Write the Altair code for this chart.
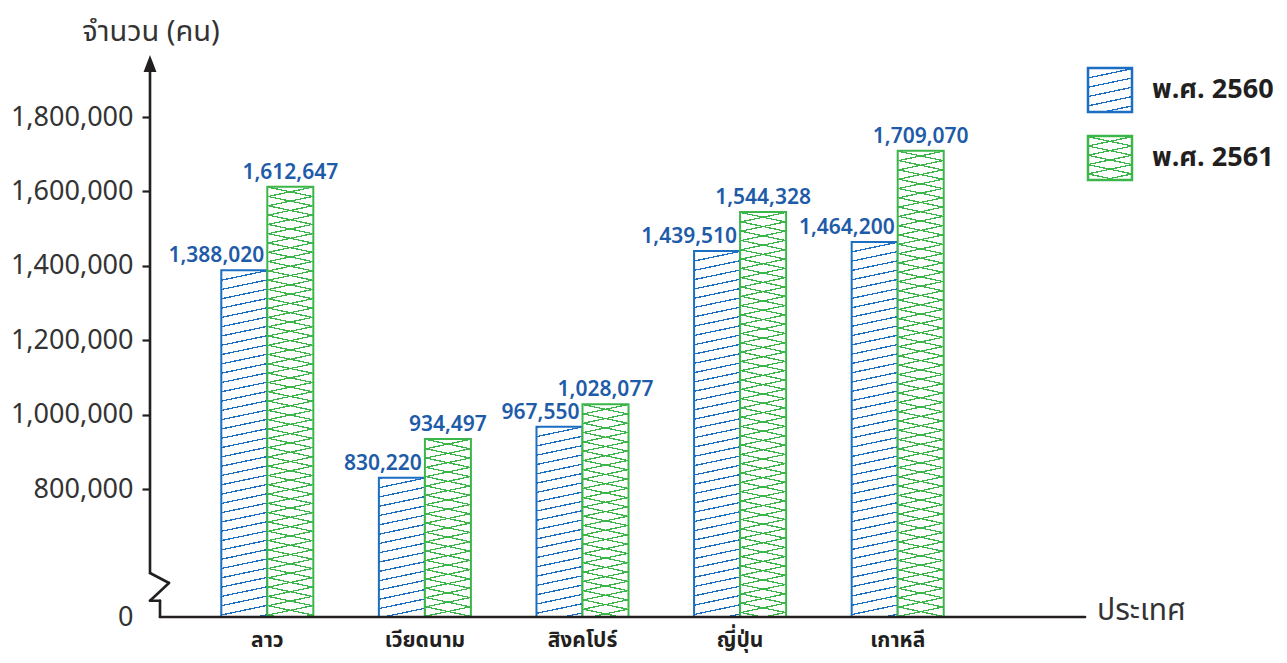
import altair as alt
import pandas as pd

# ---------------- data ----------------
countries = ["ลาว", "เวียดนาม", "สิงคโปร์", "ญี่ปุ่น", "เกาหลี"]
years = ["พ.ศ. 2560", "พ.ศ. 2561"]
values_2560 = [1388020, 830220, 967550, 1439510, 1464200]
values_2561 = [1612647, 934497, 1028077, 1544328, 1709070]
y_tick_values = [0, 800000, 1000000, 1200000, 1400000, 1600000, 1800000]
y_title = "จำนวน (คน)"
x_title = "ประเทศ"

# broken y axis (piecewise scale) and the zig-zag of the axis line
y_domain = [0, 800000, 1966667]
y_range_px = [562, 434, 0]
axis_top = 1931700
break_x_px = [0, 19, 0, 10, 10, 935]
break_y = [275000, 212500, 102000, 102000, 0, 0]

# ---------------- style ----------------
W, H = 935, 562
FONT = "Noto Sans Thai, Noto Sans, DejaVu Sans, sans-serif"
BLUE = "#1b6ec2"
GREEN = "#3cb64a"
LABEL_BLUE = "#1e5ba8"
INK = "#231f20"
CLEAR = "rgba(255,255,255,0)"

X_RANGE = [38.5, 826.5]
PAD_IN = 0.416
PAD_OUT = PAD_IN / 2
step = (X_RANGE[1] - X_RANGE[0]) / (len(countries) - PAD_IN + 2 * PAD_OUT)
bar_w = step * (1 - PAD_IN) / len(years)


def y_px(v):
    for k in range(len(y_domain) - 1):
        d0, d1 = y_domain[k], y_domain[k + 1]
        if v <= d1 or k == len(y_domain) - 2:
            r0, r1 = y_range_px[k], y_range_px[k + 1]
            return r0 + (v - d0) / (d1 - d0) * (r1 - r0)


def bar_h(v):
    return y_range_px[0] - y_px(v)


def stripes(color, bg, w, h, direction, period=9.3, thick=1.3, slope=0.21):
    """Linear gradient with hard stops that draws diagonal hatching."""
    L = h + slope * w
    r = slope * w / h
    k = (r + 1) / (r * r + 1)
    a, b = k * r, k
    if direction == "up":
        x1, y1, x2, y2 = 0, 0, a, b
    else:
        x1, y1, x2, y2 = 1, 0, 1 - a, b
    stops = []
    i = 0
    while i * period / L < 1:
        o0 = i * period / L
        o1 = min((i * period + thick) / L, 1)
        o2 = min((i + 1) * period / L, 1)
        stops += [
            {"offset": o0, "color": color},
            {"offset": o1, "color": color},
            {"offset": o1, "color": bg},
            {"offset": o2, "color": bg},
        ]
        i += 1
    return {"gradient": "linear", "x1": x1, "y1": y1, "x2": x2, "y2": y2,
            "stops": stops}


rows = []
for c, v0, v1 in zip(countries, values_2560, values_2561):
    rows.append({"country": c, "year": years[0], "value": v0})
    rows.append({"country": c, "year": years[1], "value": v1})
df = pd.DataFrame(rows)
one = pd.DataFrame({"k": [0]})

x_enc = alt.X(
    "country:N", sort=countries, title=None,
    scale=alt.Scale(domain=countries, range=X_RANGE,
                    paddingInner=PAD_IN, paddingOuter=PAD_OUT),
    axis=alt.Axis(domain=False, ticks=False, labelAngle=0, labelFont=FONT,
                  labelFontSize=21, labelFontWeight="bold", labelColor=INK,
                  labelPadding=12),
)
xo_enc = alt.XOffset("year:N", sort=years,
                     scale=alt.Scale(domain=years, paddingInner=0, paddingOuter=0))
y_enc = alt.Y(
    "value:Q", title=None,
    scale=alt.Scale(domain=y_domain, range=y_range_px, nice=False, zero=False),
    axis=alt.Axis(values=y_tick_values, format=",d", domain=False, grid=False,
                  tickSize=8, tickWidth=2.2, tickColor=INK,
                  tickOpacity={"condition": {"test": "datum.value === 0", "value": 0},
                               "value": 1},
                  labelFont=FONT, labelFontSize=27, labelColor="#333333",
                  labelPadding=9),
)

layers = []
for c, v0, v1 in zip(countries, values_2560, values_2561):
    for y, v in zip(years, [v0, v1]):
        h = bar_h(v)
        base = alt.Chart(df).transform_filter(
            (alt.datum.country == c) & (alt.datum.year == y)
        ).encode(x=x_enc, xOffset=xo_enc, y=y_enc)
        if y == years[0]:
            layers.append(base.mark_bar(fill=stripes(BLUE, "white", bar_w, h, "up"),
                                        stroke=BLUE, strokeWidth=2))
        else:
            layers.append(base.mark_bar(fill=stripes(GREEN, "white", bar_w, h, "down")))
            layers.append(base.mark_bar(fill=stripes(GREEN, CLEAR, bar_w, h, "up"),
                                        stroke=GREEN, strokeWidth=2))

# value labels
layers.append(
    alt.Chart(df).transform_filter(alt.datum.year == years[0]).mark_text(
        align="right", dx=20, dy=-8, baseline="alphabetic", font=FONT,
        fontSize=21, fontWeight=600, color=LABEL_BLUE
    ).encode(x=x_enc, xOffset=xo_enc, y=y_enc, text=alt.Text("value:Q", format=",d"))
)
layers.append(
    alt.Chart(df).transform_filter(alt.datum.year == years[1]).mark_text(
        align="center", dy=-8, baseline="alphabetic", font=FONT,
        fontSize=21, fontWeight=600, color=LABEL_BLUE
    ).encode(x=x_enc, xOffset=xo_enc, y=y_enc, text=alt.Text("value:Q", format=",d"))
)

# axis lines with break
axis_rule = dict(color=INK, strokeWidth=2.6, strokeCap="round")
layers.append(alt.Chart(one).mark_rule(**axis_rule).encode(
    x=alt.value(0), x2=alt.value(0),
    y=alt.datum(axis_top), y2=alt.datum(break_y[0])))
for k in range(len(break_x_px) - 1):
    layers.append(alt.Chart(one).mark_rule(**axis_rule).encode(
        x=alt.value(break_x_px[k]), x2=alt.value(break_x_px[k + 1]),
        y=alt.datum(break_y[k]), y2=alt.datum(break_y[k + 1])))
# arrow head
layers.append(alt.Chart(one).mark_point(
    shape="M0,-1L0.76,1L-0.76,1Z", filled=True, size=289, color=INK, opacity=1
).encode(x=alt.value(0), y=alt.value(8.5)))

# axis titles
layers.append(alt.Chart(one).mark_text(
    text=y_title, font=FONT, fontSize=29, color="#333333", align="center",
    baseline="middle").encode(x=alt.value(1), y=alt.value(-23)))
layers.append(alt.Chart(one).mark_text(
    text=x_title, font=FONT, fontSize=30, color="#333333", align="left",
    baseline="middle").encode(x=alt.value(947), y=alt.value(556)))

# legend
LEG = 44
layers.append(alt.Chart(one).mark_rect(
    fill=stripes(BLUE, "white", LEG, LEG, "up"), stroke=BLUE, strokeWidth=2.5
).encode(x=alt.value(938), x2=alt.value(938 + LEG), y=alt.value(13), y2=alt.value(13 + LEG)))
layers.append(alt.Chart(one).mark_rect(
    fill=stripes(GREEN, "white", LEG, LEG, "down")
).encode(x=alt.value(938), x2=alt.value(938 + LEG), y=alt.value(81), y2=alt.value(81 + LEG)))
layers.append(alt.Chart(one).mark_rect(
    fill=stripes(GREEN, CLEAR, LEG, LEG, "up"), stroke=GREEN, strokeWidth=2.5
).encode(x=alt.value(938), x2=alt.value(938 + LEG), y=alt.value(81), y2=alt.value(81 + LEG)))
for yy, lbl in zip([35, 103], years):
    layers.append(alt.Chart(one).mark_text(
        text=lbl, font=FONT, fontSize=27, fontWeight="bold", color=INK,
        align="left", baseline="middle").encode(x=alt.value(1002), y=alt.value(yy)))

chart = alt.layer(*layers).properties(
    width=W, height=H,
    padding={"left": 142, "top": 47, "right": 194, "bottom": 38},
    autosize=alt.AutoSizeParams(type="none"),
).configure(background="white").configure_view(stroke="transparent", strokeWidth=0)

chart.save("out.html", embed_options={"renderer": "svg", "actions": False})
